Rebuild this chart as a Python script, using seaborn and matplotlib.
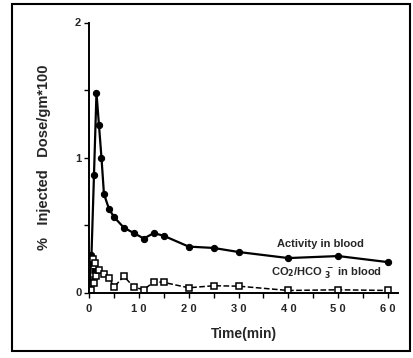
import matplotlib
matplotlib.use("Agg")
import matplotlib.pyplot as plt
import seaborn as sns
import pandas as pd
from matplotlib.patches import Rectangle
from matplotlib.ticker import FixedLocator

sns.set_style("white")
plt.rcParams['font.family'] = ['Liberation Sans', 'DejaVu Sans']
plt.rcParams['mathtext.default'] = 'bf'

# Activity in blood (filled circles, solid)
t_act = [0, 0.5, 1, 1.5, 2, 2.5, 3, 4, 5, 7, 9, 11, 13, 15, 20, 25, 30, 40, 50, 60]
v_act = [0, 0.28, 0.87, 1.48, 1.24, 1.0, 0.73, 0.62, 0.56, 0.48, 0.44, 0.40, 0.44, 0.42,
         0.34, 0.33, 0.30, 0.255, 0.27, 0.225]

# CO2/HCO3- in blood (open squares, dashed)
t_co2 = [0.5, 0.75, 1, 1.25, 1.5, 2, 3, 4, 5, 7, 9, 11, 13, 15, 20, 25, 30, 40, 50, 60]
v_co2 = [0.02, 0.25, 0.07, 0.22, 0.12, 0.17, 0.14, 0.11, 0.04, 0.12, 0.04, 0.02, 0.08,
         0.075, 0.035, 0.05, 0.047, 0.015, 0.02, 0.015]

x_ticks = [0, 10, 20, 30, 40, 50, 60]
x_tick_labels = ["0", "1 0", "2 0", "3 0", "4 0", "5 0", "6 0"]
y_ticks = [0, 1, 2]
y_tick_labels = ["0", "1", "2"]

df_act = pd.DataFrame({"t": t_act, "v": v_act})
df_co2 = pd.DataFrame({"t": t_co2, "v": v_co2})

fig = plt.figure(figsize=(4.14, 3.58), dpi=100)
ax = fig.add_axes([89/414, (358-292.5)/358, 309/414, 270/358])

sns.lineplot(data=df_act, x="t", y="v", ax=ax, color="black", linewidth=1.6,
             marker="o", markersize=4.5, markerfacecolor="black", markeredgecolor="black")
sns.lineplot(data=df_co2, x="t", y="v", ax=ax, color="black", linewidth=1.1,
             linestyle="--", dashes=(4, 2.5), marker="s", markersize=3.8,
             markerfacecolor="white", markeredgecolor="black", markeredgewidth=1.1)

ax.set_xlim(0, 62)
ax.set_ylim(0, 2)
ax.set_xticks(x_ticks)
ax.set_xticklabels(x_tick_labels, fontsize=8, fontweight="bold")
ax.set_yticks(y_ticks)
ax.set_yticklabels(y_tick_labels, fontsize=8, fontweight="bold")
ax.xaxis.set_minor_locator(FixedLocator([5, 15, 25, 35, 45, 55]))
ax.yaxis.set_minor_locator(FixedLocator([0.5, 1.5]))
ax.tick_params(axis="both", which="both", direction="out", length=3.5, width=1.0,
               color="black", bottom=True, left=True)
ax.tick_params(axis="x", which="major", pad=5)
ax.tick_params(axis="y", which="major", pad=2)

for s in ["top", "right"]:
    ax.spines[s].set_visible(False)
for s in ["left", "bottom"]:
    ax.spines[s].set_color("black")
    ax.spines[s].set_linewidth(1.4)

ax.set_xlabel("Time(min)", fontsize=10, fontweight="bold", labelpad=9)
ax.set_ylabel("%   Injected   Dose/gm*100", fontsize=10.5, fontweight="bold", labelpad=17)

ax.text(0.61, 0.18, "Activity in blood", transform=ax.transAxes, fontsize=8,
        fontweight="bold", ha="left", va="center")
ax.text(0.59, 0.075, "CO$_2$/HCO $_3^-$ in blood", transform=ax.transAxes, fontsize=8,
        fontweight="bold", ha="left", va="center")

fig.patches.append(Rectangle((12/414, 1 - 351/358), 398/414, 347/358,
                             transform=fig.transFigure, fill=False,
                             edgecolor="black", linewidth=1.5))

fig.savefig("out.png", dpi=100)
